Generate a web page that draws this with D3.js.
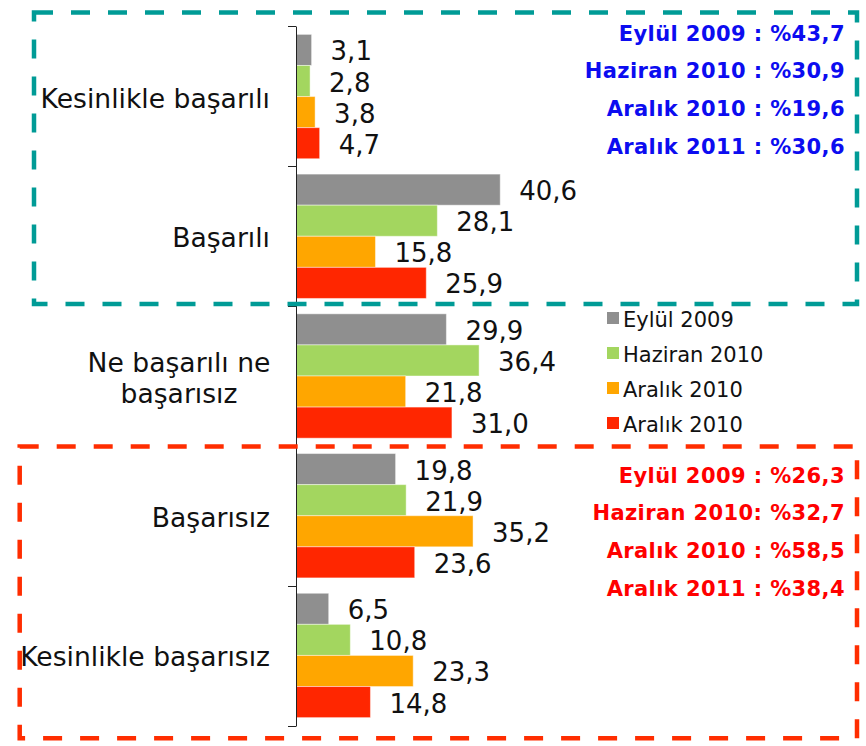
<!DOCTYPE html>
<html>
<head>
<meta charset="utf-8">
<script src="https://cdn.jsdelivr.net/npm/d3@7"></script>
<style>
  body { margin: 0; background: #fff; }
  svg { display: block; }
</style>
</head>
<body>
<div id="chart"></div>
<script>
// Data
const categories = ["Kesinlikle başarılı", "Başarılı", "Ne başarılı ne\nbaşarısız", "Başarısız", "Kesinlikle başarısız"];
const seriesNames = ["Eylül 2009", "Haziran 2010", "Aralık 2010", "Aralık 2010"];
const eylul2009 = [3.1, 40.6, 29.9, 19.8, 6.5];
const haziran2010 = [2.8, 28.1, 36.4, 21.9, 10.8];
const aralik2010 = [3.8, 15.8, 21.8, 35.2, 23.3];
const aralik2011 = [4.7, 25.9, 31.0, 23.6, 14.8];
const positiveNotes = ["Eylül 2009 : %43,7", "Haziran 2010 : %30,9", "Aralık 2010 : %19,6", "Aralık 2011 : %30,6"];
const negativeNotes = ["Eylül 2009 : %26,3", "Haziran 2010: %32,7", "Aralık 2010 : %58,5", "Aralık 2011 : %38,4"];

const W = 866, H = 746;
const AXIS_X = 296, AXIS_TOP = 26, AXIS_BOTTOM = 726;
const COLORS = ["#8f8f8f", "#a3d65f", "#ffa600", "#ff2600"];
const FONT = "Verdana, 'DejaVu Sans', sans-serif";

const allSeries = [eylul2009, haziran2010, aralik2010, aralik2011];
const rows = [];
categories.forEach((c, i) => {
  allSeries.forEach((s, j) => rows.push({ cat: c, series: j, value: s[i] }));
});

const svg = d3.select("#chart").append("svg").attr("width", W).attr("height", H);

// Scales
const y0 = d3.scaleBand().domain(categories).range([AXIS_TOP, AXIS_BOTTOM]).paddingInner(0.11).paddingOuter(0.06);
const y1 = d3.scaleBand().domain(d3.range(allSeries.length)).range([0, y0.bandwidth()]);
const x = d3.scaleLinear().domain([0, 45]).range([AXIS_X, AXIS_X + 45 * 5.03]);
const fmt = v => v.toFixed(1).replace(".", ",");

// Bars
svg.append("g").selectAll("rect").data(rows).enter().append("rect")
  .attr("x", x(0))
  .attr("y", d => y0(d.cat) + y1(d.series))
  .attr("width", d => x(d.value) - x(0))
  .attr("height", y1.bandwidth())
  .attr("fill", d => COLORS[d.series])
  .attr("stroke", "rgba(255,255,255,0.45)")
  .attr("stroke-width", 1);

// Value labels
svg.append("g").selectAll("text").data(rows).enter().append("text")
  .attr("x", d => x(d.value) + 19)
  .attr("y", d => y0(d.cat) + y1(d.series) + y1.bandwidth() / 2 + 10.5)
  .attr("font-family", FONT).attr("font-size", "26px").attr("fill", "#111")
  .text(d => fmt(d.value));

// Axis with ticks on category boundaries
const tickScale = d3.scaleLinear().domain([0, categories.length]).range([AXIS_TOP, AXIS_BOTTOM]);
const axisG = svg.append("g").attr("transform", `translate(${AXIS_X},0)`)
  .call(d3.axisLeft(tickScale).ticks(categories.length).tickSize(8).tickSizeOuter(0).tickFormat(""));
axisG.selectAll("path, line").attr("stroke", "#222");

// Category labels
categories.forEach(c => {
  const lines = c.split("\n");
  const cy = y0(c) + y0.bandwidth() / 2;
  const t = svg.append("text")
    .attr("font-family", FONT).attr("font-size", "26.6px").attr("fill", "#111")
    .attr("text-anchor", lines.length > 1 ? "middle" : "end");
  const lx = lines.length > 1 ? 179 : 270;
  lines.forEach((ln, k) => {
    t.append("tspan").attr("x", lx)
      .attr("y", cy + 11 + (k - (lines.length - 1) / 2) * 31)
      .text(ln);
  });
});

// Legend
const legend = svg.append("g").attr("transform", "translate(607,318)");
seriesNames.forEach((name, i) => {
  const g = legend.append("g").attr("transform", `translate(0,${i * 35})`);
  g.append("rect").attr("x", 0).attr("y", -6).attr("width", 12).attr("height", 12).attr("fill", COLORS[i]);
  g.append("text").attr("x", 16).attr("y", 8.5)
    .attr("font-family", FONT).attr("font-size", "21px").attr("fill", "#111")
    .text(name);
});

// Dashed boxes
svg.append("rect").attr("x", 34).attr("y", 12.5).attr("width", 857 - 34).attr("height", 304 - 12.5)
  .attr("fill", "none").attr("stroke", "#009b96").attr("stroke-width", 4.5).attr("stroke-dasharray", "19,18");
svg.append("rect").attr("x", 19.7).attr("y", 446.5).attr("width", 857 - 19.7).attr("height", 738.3 - 446.5)
  .attr("fill", "none").attr("stroke", "#ff2d00").attr("stroke-width", 4.5).attr("stroke-dasharray", "19,18");

// Summary notes
function notes(list, top, color) {
  svg.append("g").selectAll("text").data(list).enter().append("text")
    .attr("x", 845).attr("y", (d, i) => top + i * 37.7)
    .attr("text-anchor", "end")
    .attr("font-family", FONT).attr("font-size", "21px").attr("font-weight", "bold")
    .attr("letter-spacing", "0.4px")
    .attr("fill", color)
    .text(d => d);
}
notes(positiveNotes, 40.7, "#0c0cf0");
notes(negativeNotes, 482.7, "#ff0000");
</script>
</body>
</html>
